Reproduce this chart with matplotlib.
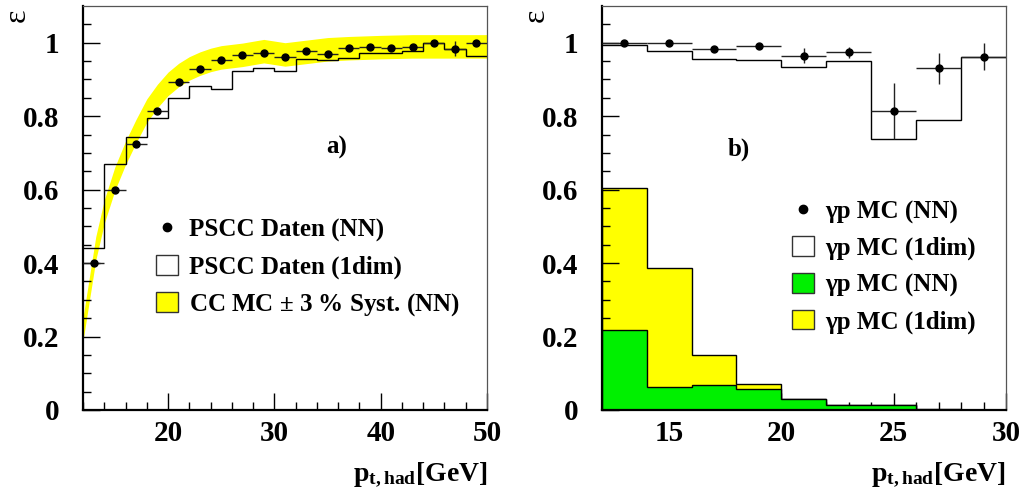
import numpy as np
import matplotlib
matplotlib.use("Agg")
import matplotlib.pyplot as plt
from matplotlib.lines import Line2D
from matplotlib.patches import Patch

plt.rcParams['font.family'] = ['Liberation Serif', 'DejaVu Serif']
plt.rcParams['font.weight'] = 'bold'
plt.rcParams['mathtext.fontset'] = 'custom'
plt.rcParams['mathtext.rm'] = 'Liberation Serif:bold'
plt.rcParams['mathtext.bf'] = 'Liberation Serif:bold'
plt.rcParams['mathtext.it'] = 'Liberation Serif:bold'

# ---- panel a) : PSCC data vs CC MC ----
edges_a = np.arange(12, 51, 2)
nn_a = [0.40, 0.60, 0.723, 0.814, 0.893, 0.928, 0.954, 0.966, 0.972, 0.962,
        0.977, 0.970, 0.985, 0.987, 0.985, 0.987, 0.999, 0.984, 0.999]
nn_a_err = [0.006, 0.006, 0.006, 0.006, 0.006, 0.006, 0.006, 0.006, 0.006, 0.006,
            0.006, 0.006, 0.006, 0.006, 0.006, 0.006, 0.008, 0.02, 0.008]
dim1_a = [0.442, 0.67, 0.744, 0.795, 0.849, 0.883, 0.875, 0.924, 0.932, 0.923,
          0.956, 0.954, 0.959, 0.972, 0.973, 0.977, 1.0, 0.984, 0.963]
band_x = [12, 12.6, 13.2, 14, 15, 16, 17, 18, 19, 20, 21, 22, 23, 24, 25,
          27, 29, 31, 33, 35, 37, 40, 43, 46, 50]
band_c = [0.22, 0.33, 0.44, 0.54, 0.63, 0.70, 0.76, 0.815, 0.855, 0.888, 0.912,
          0.93, 0.943, 0.953, 0.96, 0.967, 0.977, 0.968, 0.975, 0.982, 0.985,
          0.988, 0.99, 0.99, 0.99]
band_hw = 0.032

# ---- panel b) : gamma-p MC ----
edges_b = np.arange(12, 31, 2)
nn_b = [0.999, 0.998, 0.984, 0.991, 0.965, 0.974, 0.815, 0.930, 0.962]
nn_b_err = [0.003, 0.003, 0.004, 0.004, 0.02, 0.015, 0.076, 0.042, 0.036]
dim1_b = [0.993, 0.977, 0.955, 0.952, 0.935, 0.949, 0.738, 0.790, 0.962]
bg_1dim = [0.605, 0.386, 0.150, 0.070, 0.029, 0.013, 0.013, 0.003, 0.0]
bg_nn = [0.218, 0.062, 0.068, 0.056, 0.029, 0.013, 0.013, 0.0, 0.0]

ytick_vals = [0, 0.2, 0.4, 0.6, 0.8, 1.0]
ytick_labels = ['0', '0.2', '0.4', '0.6', '0.8', '1']
legend_a = ['PSCC Daten (NN)', 'PSCC Daten (1dim)', r'CC MC $\pm$ 3 % Syst. (NN)']
legend_b = ['γp MC (NN)', 'γp MC (1dim)', 'γp MC (NN)', 'γp MC (1dim)']

YELLOW = '#ffff00'
GREEN = '#00f000'
LEG_FS = 18

fig = plt.figure(figsize=(10.21, 4.9), dpi=100)
ax1 = fig.add_axes([0.0813, 0.1633, 0.3957, 0.8245])
ax2 = fig.add_axes([0.5893, 0.1633, 0.396, 0.8245])


def style_axis(ax, xlim, xmajor, xminor):
    ax.set_xlim(*xlim)
    ax.set_ylim(0, 1.1)
    ax.set_xticks(xmajor)
    ax.set_xticks(xminor, minor=True)
    ax.set_yticks(ytick_vals)
    ax.set_yticklabels(ytick_labels)
    ax.set_yticks(np.arange(0, 1.1, 0.05), minor=True)
    ax.tick_params(which='both', direction='in', top=False, right=False,
                   labelsize=21, width=1, color='black')
    ax.tick_params(which='major', length=12)
    ax.tick_params(which='minor', length=6)
    ax.tick_params(axis='y', pad=17)
    ax.tick_params(axis='x', pad=7)
    for s in ['left', 'bottom']:
        ax.spines[s].set_linewidth(1.6)
    for s in ['top', 'right']:
        ax.spines[s].set_linewidth(0.9)
        ax.spines[s].set_color('#555555')
    ax.set_ylabel('ε', rotation=90, fontsize=23, fontweight='normal',
                  ha='center', va='center')
    ax.yaxis.set_label_coords(-0.162, 0.978)
    ax.set_xlabel(r'$\mathbf{p_{t,had}[GeV]}$', fontsize=20,
                  ha='right', va='baseline')
    ax.xaxis.set_label_coords(1.0, -0.173)


def make_legend(ax, handles, labels, anchor):
    ax.legend(handles, labels, loc='upper left', bbox_to_anchor=anchor,
              frameon=False, fontsize=LEG_FS, borderpad=0, borderaxespad=0,
              handlelength=0.88, handleheight=0.85, handletextpad=0.45,
              labelspacing=0.5)


# panel a
ctr_a = (edges_a[:-1] + edges_a[1:]) / 2
bc = np.array(band_c)
ax1.fill_between(band_x, bc - band_hw, bc + band_hw, color=YELLOW, lw=0, zorder=1)
ax1.stairs(dim1_a, edges_a, baseline=None, color='black', lw=1, zorder=2)
ax1.errorbar(ctr_a, nn_a, xerr=1, yerr=nn_a_err, fmt='o', color='black',
             ms=5, elinewidth=1, ecolor='#222222', capsize=0, zorder=3)
style_axis(ax1, (12, 50), [20, 30, 40, 50], np.arange(12, 51, 2))
ax1.text(34.9, 0.715, 'a)', fontsize=18, ha='left', va='center')
h_a = [Line2D([], [], marker='o', color='black', ls='none', ms=6),
       Patch(facecolor='white', edgecolor='#333333', lw=1),
       Patch(facecolor=YELLOW, edgecolor='#333333', lw=1)]
make_legend(ax1, h_a, legend_a, (0.18, 0.475))

# panel b
ctr_b = (edges_b[:-1] + edges_b[1:]) / 2
ax2.stairs(bg_1dim, edges_b, fill=True, facecolor=YELLOW, edgecolor='black',
           lw=1, zorder=1)
ax2.stairs(bg_nn, edges_b, fill=True, facecolor=GREEN, edgecolor='black',
           lw=1, zorder=2)
ax2.stairs(dim1_b, edges_b, baseline=None, color='black', lw=1, zorder=3)
ax2.errorbar(ctr_b, nn_b, xerr=1, yerr=nn_b_err, fmt='o', color='black',
             ms=5, elinewidth=1, ecolor='#222222', capsize=0, zorder=4)
style_axis(ax2, (12, 30), [15, 20, 25, 30], np.arange(12, 31, 1))
ax2.text(17.6, 0.71, 'b)', fontsize=18, ha='left', va='center')
h_b = [Line2D([], [], marker='o', color='black', ls='none', ms=6),
       Patch(facecolor='white', edgecolor='#333333', lw=1),
       Patch(facecolor=GREEN, edgecolor='#333333', lw=1),
       Patch(facecolor=YELLOW, edgecolor='#333333', lw=1)]
make_legend(ax2, h_b, legend_b, (0.471, 0.52))

fig.savefig('out.png', dpi=100)
